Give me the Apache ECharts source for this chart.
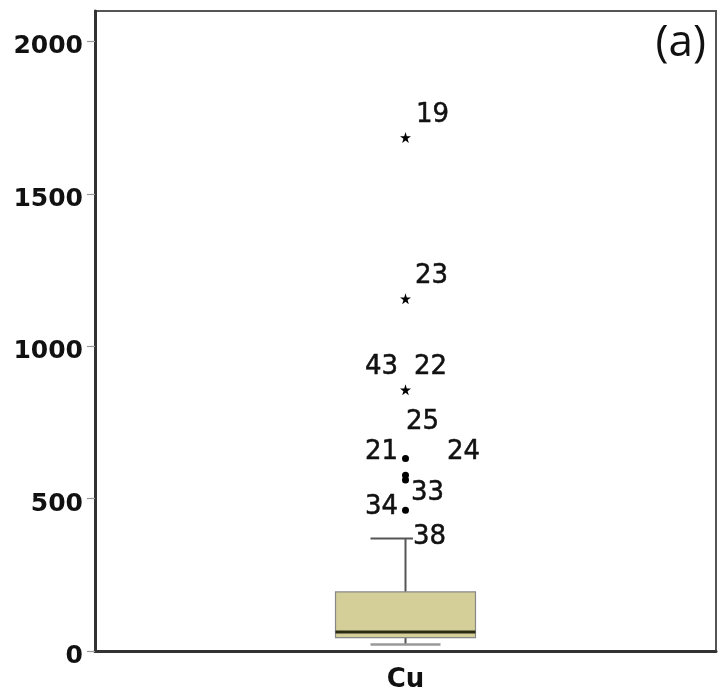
<!DOCTYPE html>
<html>
<head>
<meta charset="utf-8">
<script src="https://cdn.jsdelivr.net/npm/echarts@6/dist/echarts.min.js"></script>
<style>
html, body { margin: 0; padding: 0; background: #fff; }
#main { width: 718px; height: 699px; }
</style>
</head>
<body>
<div id="main"></div>
<script>
// 分类与箱线统计量 (min, Q1, median, Q3, max)
var categories = ['Cu'];
var boxStats = [[21, 44, 62, 194, 369]];
// 极端值 (星号) 与离群值 (圆点)
var extremeValues = [1685, 1156, 857];
var outlierValues = [632, 577, 561, 462];
// 样本编号标注
var caseIds = ['19', '23', '43', '22', '25', '21', '24', '33', '34', '38'];
var caseValues = [1685, 1156, 857, 857, 632, 632, 632, 561, 462, 372];
// y 轴刻度
var yTicks = [0, 500, 1000, 1500, 2000];

// 标注相对点的偏移
var labelOffsets = [[27, -22], [26, -22], [-24, -23], [25, -23], [17, -36],
	[-24, -6], [58, -6], [22, 13], [-24, -3], [24, 0]];

var starPath = 'path://M50,0 L61,35 L98,35 L68,57 L79,91 L50,70 L21,91 L32,57 L2,35 L39,35 Z';

function boxItem(params, api) {
	var xi = api.value(0);
	var pMin = api.coord([xi, api.value(1)]);
	var pQ1 = api.coord([xi, api.value(2)]);
	var pMed = api.coord([xi, api.value(3)]);
	var pQ3 = api.coord([xi, api.value(4)]);
	var pMax = api.coord([xi, api.value(5)]);
	var band = api.size([1, 0])[0];
	var half = band * 0.1127;
	var cap = half / 2;
	var cx = pMed[0];
	return {
		type : 'group',
		children : [ {
			type : 'line',
			shape : { x1 : cx, y1 : pQ3[1], x2 : cx, y2 : pMax[1] },
			style : { stroke : '#555', lineWidth : 2 }
		}, {
			type : 'line',
			shape : { x1 : cx - cap, y1 : pMax[1], x2 : cx + cap, y2 : pMax[1] },
			style : { stroke : '#555', lineWidth : 2 }
		}, {
			type : 'line',
			shape : { x1 : cx, y1 : pQ1[1], x2 : cx, y2 : pMin[1] },
			style : { stroke : '#555', lineWidth : 2 }
		}, {
			type : 'line',
			shape : { x1 : cx - cap, y1 : pMin[1], x2 : cx + cap, y2 : pMin[1] },
			style : { stroke : '#999', lineWidth : 2.5 }
		}, {
			type : 'rect',
			shape : { x : cx - half, y : pQ3[1], width : half * 2, height : pQ1[1] - pQ3[1] },
			style : { fill : '#d4cf99', stroke : '#888', lineWidth : 1.2 }
		}, {
			type : 'line',
			shape : { x1 : cx - half, y1 : pMed[1], x2 : cx + half, y2 : pMed[1] },
			style : { stroke : '#2b2a12', lineWidth : 3 }
		} ]
	};
}

var boxData = boxStats.map(function (s, i) {
	return [i].concat(s);
});

var labelData = caseIds.map(function (id, i) {
	return {
		value : [categories[0], caseValues[i]],
		name : id,
		label : {
			offset : labelOffsets[i],
			backgroundColor : id === '38' ? '#fff' : 'transparent'
		}
	};
});

var option = {
	backgroundColor : '#fff',
	animation : false,
	title : {
		text : '(a)',
		right : 7,
		top : 16,
		textStyle : {
			fontFamily : 'Open Sans',
			fontSize : 44,
			fontWeight : 'normal',
			color : '#111'
		}
	},
	grid : {
		left : 95,
		right : 2,
		top : 11,
		bottom : 48,
		show : true,
		borderColor : '#555',
		borderWidth : 2
	},
	xAxis : {
		type : 'category',
		data : categories,
		axisLine : { lineStyle : { color : '#333', width : 3 } },
		axisTick : { alignWithLabel : true, length : 7, lineStyle : { color : '#555', width : 2 } },
		axisLabel : {
			margin : 16,
			fontFamily : 'DejaVu Sans',
			fontWeight : 'bold',
			fontSize : 26,
			color : '#111'
		}
	},
	yAxis : {
		type : 'value',
		min : 0,
		max : 2100,
		interval : 500,
		splitLine : { show : false },
		axisLine : { show : true, lineStyle : { color : '#333', width : 3 } },
		axisTick : { show : true, length : 8, lineStyle : { color : '#999', width : 1.2 } },
		axisLabel : {
			showMaxLabel : false,
			margin : 12,
			verticalAlign : 'top',
			lineHeight : 11,
			fontFamily : 'DejaVu Sans',
			fontWeight : 'bold',
			fontSize : 25,
			color : '#111',
			formatter : function (v) {
				return yTicks.indexOf(v) >= 0 ? String(v) : '';
			}
		}
	},
	series : [ {
		type : 'custom',
		renderItem : boxItem,
		data : boxData,
		z : 2
	}, {
		type : 'scatter',
		symbol : starPath,
		symbolSize : 11,
		itemStyle : { color : '#000', opacity : 1 },
		data : extremeValues.map(function (v) { return [categories[0], v]; }),
		z : 3
	}, {
		type : 'scatter',
		symbol : 'circle',
		symbolSize : 7,
		itemStyle : { color : '#000', opacity : 1 },
		data : outlierValues.map(function (v) { return [categories[0], v]; }),
		z : 3
	}, {
		type : 'scatter',
		symbolSize : 0,
		silent : true,
		itemStyle : { opacity : 1 },
		label : {
			show : true,
			position : 'inside',
			align : 'center',
			verticalAlign : 'middle',
			fontFamily : 'DejaVu Sans',
			fontSize : 26,
			color : '#111',
			textBorderColor : '#111',
			textBorderWidth : 0.5,
			formatter : function (p) { return p.name; }
		},
		data : labelData,
		z : 4
	} ]
};

var myChart = echarts.init(document.getElementById('main'));
myChart.setOption(option, true);
</script>
</body>
</html>
